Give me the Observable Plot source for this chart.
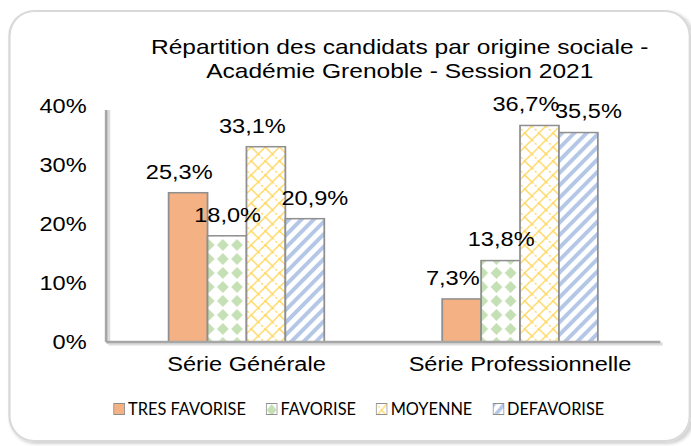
<!DOCTYPE html>
<html>
<head>
<meta charset="utf-8">
<script src="https://cdn.jsdelivr.net/npm/d3@7"></script>
<script src="https://cdn.jsdelivr.net/npm/@observablehq/plot@0.6"></script>
<style>
  html, body { margin: 0; padding: 0; background: #fff; }
  body { width: 691px; height: 446px; position: relative; overflow: hidden; font-family: "Liberation Sans", Arial, sans-serif; }
  /* the reference is horizontally stretched: the page is laid out at 586px and stretched to 691px */
  #page { position: absolute; left: 0; top: 0; width: 586px; height: 446px; transform-origin: 0 0; transform: scaleX(1.1792); }
  #frame { position: absolute; left: 6.5px; top: 10px; width: 575px; height: 428px; border: 2px solid #d9d9d9; border-radius: 22px / 26px; box-shadow: 2px 2px 3px rgba(0,0,0,0.18); }
  #title { position: absolute; left: 39px; width: 600px; top: 35px; text-align: center; font-size: 20.8px; line-height: 24px; color: #000; }
  #chart { position: absolute; left: 0; top: 0; }
  #legend { position: absolute; left: 96px; top: 399px; display: flex; align-items: center; font-family: "Lato", "Open Sans", sans-serif; font-size: 16.5px; color: #000; transform-origin: 0 50%; transform: scaleX(0.84); white-space: nowrap; }
  .item { display: flex; align-items: center; margin-right: 20px; }
  .item svg { margin-right: 3px; }
</style>
</head>
<body>
<svg width="0" height="0" style="position:absolute">
  <defs>
    <pattern id="pFav" width="12" height="14" patternUnits="userSpaceOnUse">
      <rect width="12" height="14" fill="#ffffff"/>
      <polygon points="6,1 11,7 6,13 1,7" fill="#c5e0b4"/>
    </pattern>
    <pattern id="pMoy" width="12" height="14" patternUnits="userSpaceOnUse">
      <rect width="12" height="14" fill="#ffffff"/>
      <path d="M0,14 L12,0 M6,7 L12,14 M-6,7 L0,14" stroke="#ffd966" stroke-width="1.3" fill="none"/>
      <path d="M0,0 L6,7" stroke="#ffd966" stroke-width="1.3" stroke-dasharray="2 2" fill="none"/>
    </pattern>
    <pattern id="pDef" width="8" height="8" patternUnits="userSpaceOnUse" patternTransform="rotate(40)">
      <rect width="8" height="8" fill="#ffffff"/>
      <rect x="0" y="0" width="3.6" height="8" fill="#b4c7e7"/>
    </pattern>
  </defs>
</svg>
<div id="page">
  <div id="frame"></div>
  <div id="title">Répartition des candidats par origine sociale -<br>Académie Grenoble - Session 2021</div>
  <div id="chart"></div>
  <div id="legend"></div>
</div>
<script>
const categories = ["Série Générale", "Série Professionnelle"];
const origins = ["TRES FAVORISE", "FAVORISE", "MOYENNE", "DEFAVORISE"];
const serieGenerale = [25.3, 18.0, 33.1, 20.9];
const serieProfessionnelle = [7.3, 13.8, 36.7, 35.5];
const yTicks = [0, 10, 20, 30, 40];

const fills = ["#f4b183", "url(#pFav)", "url(#pMoy)", "url(#pDef)"];

const data = [];
[serieGenerale, serieProfessionnelle].forEach((vals, i) => {
  vals.forEach((v, j) => data.push({cat: categories[i], origin: origins[j], value: v}));
});

const fmt = d => d.value.toFixed(1).replace(".", ",") + "%";
const W = 586, H = 390, ML = 90, MR = 26;
const labelMark = (o, dx) => Plot.text(data.filter(d => d.origin === o),
  {fx: "cat", x: "origin", y: "value", text: fmt, dy: -21, dx, fontSize: 20, fill: "#000"});

function makePlot(yPad) {
  return Plot.plot({
    width: W,
    height: H,
    marginLeft: ML,
    marginRight: MR,
    marginTop: 106,
    marginBottom: 48,
    style: {fontFamily: "Liberation Sans, Arial, sans-serif", fontSize: "20px", color: "#000", background: "transparent", overflow: "visible"},
    fx: {domain: categories, paddingInner: 0.416, paddingOuter: 0.219, label: null, axis: "bottom", tickSize: 0, tickPadding: 14},
    x: {domain: origins, padding: 0, axis: null},
    y: {domain: [0, 40], ticks: yTicks, tickFormat: d => d + "%", tickSize: 0, tickPadding: yPad, label: null},
    color: {domain: origins, range: fills},
    marks: [
      Plot.barY(data, {fx: "cat", x: "origin", y: "value", fill: "origin", stroke: "#8f8f8f", strokeWidth: 1.5}),
      labelMark("TRES FAVORISE", -8),
      labelMark("FAVORISE", 0),
      labelMark("MOYENNE", -12),
      labelMark("DEFAVORISE", 8)
    ]
  });
}
// The faceted y axis is anchored on the first facet: measure it, then pad the labels back to the frame's left edge
const probe = makePlot(17);
const facetLeft = probe.scale("fx").apply(categories[0]);
const plot = makePlot(17 + (facetLeft - ML));
plot.querySelectorAll("text").forEach(t => t.style.fontSize = "20px");
document.getElementById("chart").appendChild(plot);

// Axis lines placed with the plot's own y scale
const ys = plot.scale("y");
const y0 = ys.apply(0), yTop = ys.apply(40);
const svg = d3.select(plot);
const g = svg.append("g");
const xL = ML, xR = W - MR;
g.append("line").attr("x1", xL + 2).attr("x2", xR + 2).attr("y1", y0 + 2).attr("y2", y0 + 2).attr("stroke", "#dcdcdc").attr("stroke-width", 3);
g.append("line").attr("x1", xL + 2).attr("x2", xL + 2).attr("y1", yTop + 4).attr("y2", y0 + 2).attr("stroke", "#dcdcdc").attr("stroke-width", 3);
g.append("line").attr("x1", xL).attr("x2", xR).attr("y1", y0).attr("y2", y0).attr("stroke", "#a6a6a6").attr("stroke-width", 2.5);
g.append("line").attr("x1", xL).attr("x2", xL).attr("y1", yTop + 4).attr("y2", y0).attr("stroke", "#a6a6a6").attr("stroke-width", 2.2);

// Legend
const legend = document.getElementById("legend");
origins.forEach((o, i) => {
  const item = document.createElement("div");
  item.className = "item";
  item.innerHTML = `<svg width="12" height="12"><rect x="0.5" y="0.5" width="11" height="11" fill="${fills[i]}" stroke="#8f8f8f" stroke-width="1"/></svg><span>${o}</span>`;
  legend.appendChild(item);
});
</script>
</body>
</html>
